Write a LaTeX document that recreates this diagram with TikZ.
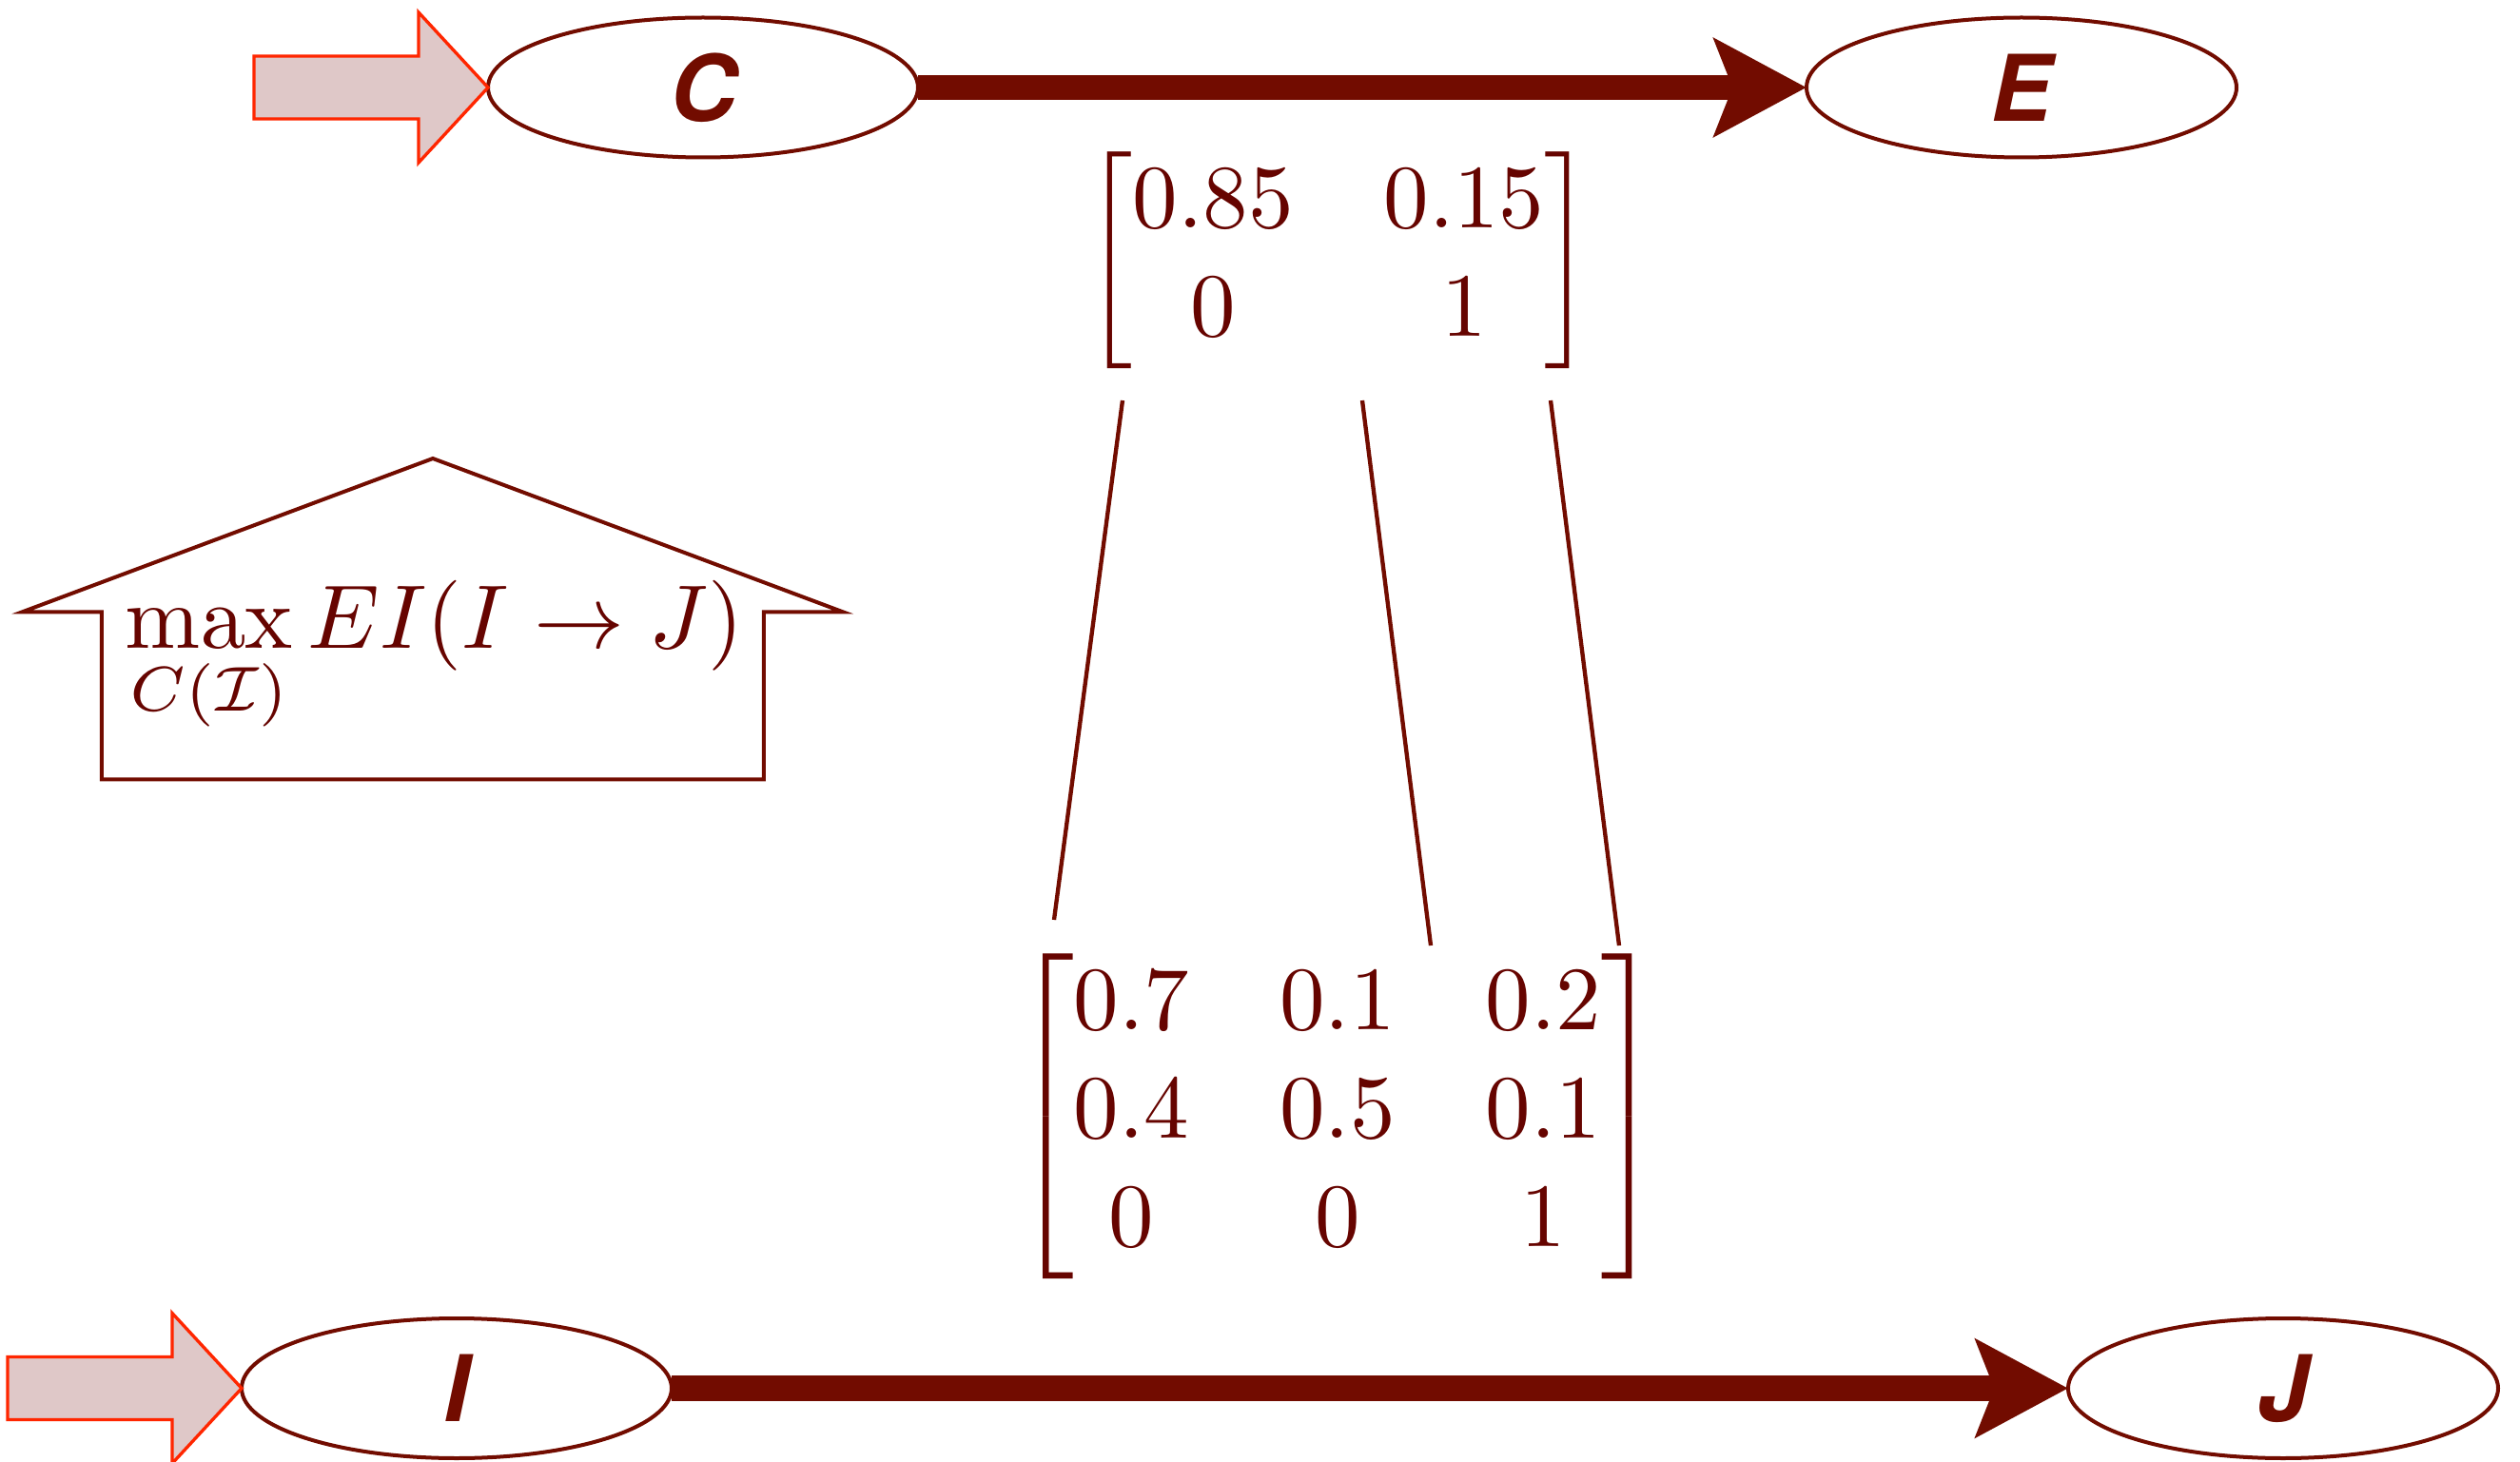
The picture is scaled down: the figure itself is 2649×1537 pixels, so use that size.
\documentclass[tikz,border=0pt]{standalone}
\usepackage{amsmath}
\usepackage{graphicx}
\usepackage[no-math]{fontspec}
\newfontfamily\heros{TeX Gyre Heros}
\usetikzlibrary{arrows.meta,shapes.geometric}
\definecolor{edge}{RGB}{114,12,0}
\definecolor{ink}{RGB}{102,4,0}
\definecolor{padfill}{RGB}{223,200,200}
\definecolor{padline}{RGB}{255,38,0}
% math set at 10pt and enlarged as a whole
\newcommand{\bigmath}[1]{\scalebox{2.85}{#1}}

\begin{document}
\begin{tikzpicture}[x=0.3pt,y=-0.3pt,
  state/.style={ellipse, draw=edge, line width=1.2pt,
    minimum width=135.6pt, minimum height=44.1pt,
    inner sep=0pt, outer sep=0pt, text=edge,
    font=\heros\bfseries\itshape\fontsize{29}{34}\selectfont},
  flow/.style={draw=edge, line width=8pt,
    -{Stealth[length=29pt,width=30.5pt,inset=5.7pt]}},
  feed/.style={fill=padfill, draw=padline, line width=1pt, line join=miter},
  link/.style={draw=edge, line width=1.3pt},
  house/.style={draw=edge, line width=1.2pt, line join=miter},
  mathtext/.style={inner sep=0pt, outer sep=0pt, text=ink,
    font=\fontsize{10}{12}\selectfont}
]
\useasboundingbox (0,0) rectangle (2649,1537);

% macro level: C -> E
\node[state] (C) at (739,92) {C};
\node[state] (E) at (2125,92) {E};
% micro level: I -> J
\node[state] (I) at (480,1459.5) {I};
\node[state] (J) at (2400,1459.5) {J};

% input arrows feeding the start states
\draw[feed] (C.west) -- ++(-73,-79) -- ++(0,46) -- ++(-173,0) -- ++(0,66)
  -- ++(173,0) -- ++(0,46) -- cycle;
\draw[feed] (I.west) -- ++(-73,-79) -- ++(0,46) -- ++(-173,0) -- ++(0,66)
  -- ++(173,0) -- ++(0,46) -- cycle;

% transitions
\draw[flow] (C.east) -- (E.west);
\draw[flow] (I.east) -- (J.west);

% transition matrices
\node[mathtext] (Tmac) at (1407,274)
  {\bigmath{$\begin{bmatrix}0.85 & 0.15\\ 0 & 1\end{bmatrix}$}};
\node[mathtext] (Tmic) at (1406,1173.3)
  {\bigmath{$\begin{bmatrix}0.7 & 0.1 & 0.2\\ 0.4 & 0.5 & 0.1\\ 0 & 0 & 1\end{bmatrix}$}};

% grouping lines between the two matrices
\coordinate (t1) at (1180,421);
\coordinate (b1) at (1108,967);
\coordinate (t2) at (1432,421);
\coordinate (b2) at (1504,994);
\coordinate (t3) at (1630,421);
\coordinate (b3) at (1702,994);
\draw[link] (t1) -- (b1);
\draw[link] (t2) -- (b2);
\draw[link] (t3) -- (b3);

% upward arrow box with the objective
\draw[house] (455,482) -- (886,643.3) -- (802.8,643.3) -- (802.8,819.3)
  -- (106.8,819.3) -- (106.8,643.3) -- (23.5,643.3) -- cycle;
\node[mathtext, anchor=base west] (obj) at (131,681.7)
  {\bigmath{$\displaystyle\max_{C(\mathcal{I})} EI(I\to J)$}};
\end{tikzpicture}
\end{document}
